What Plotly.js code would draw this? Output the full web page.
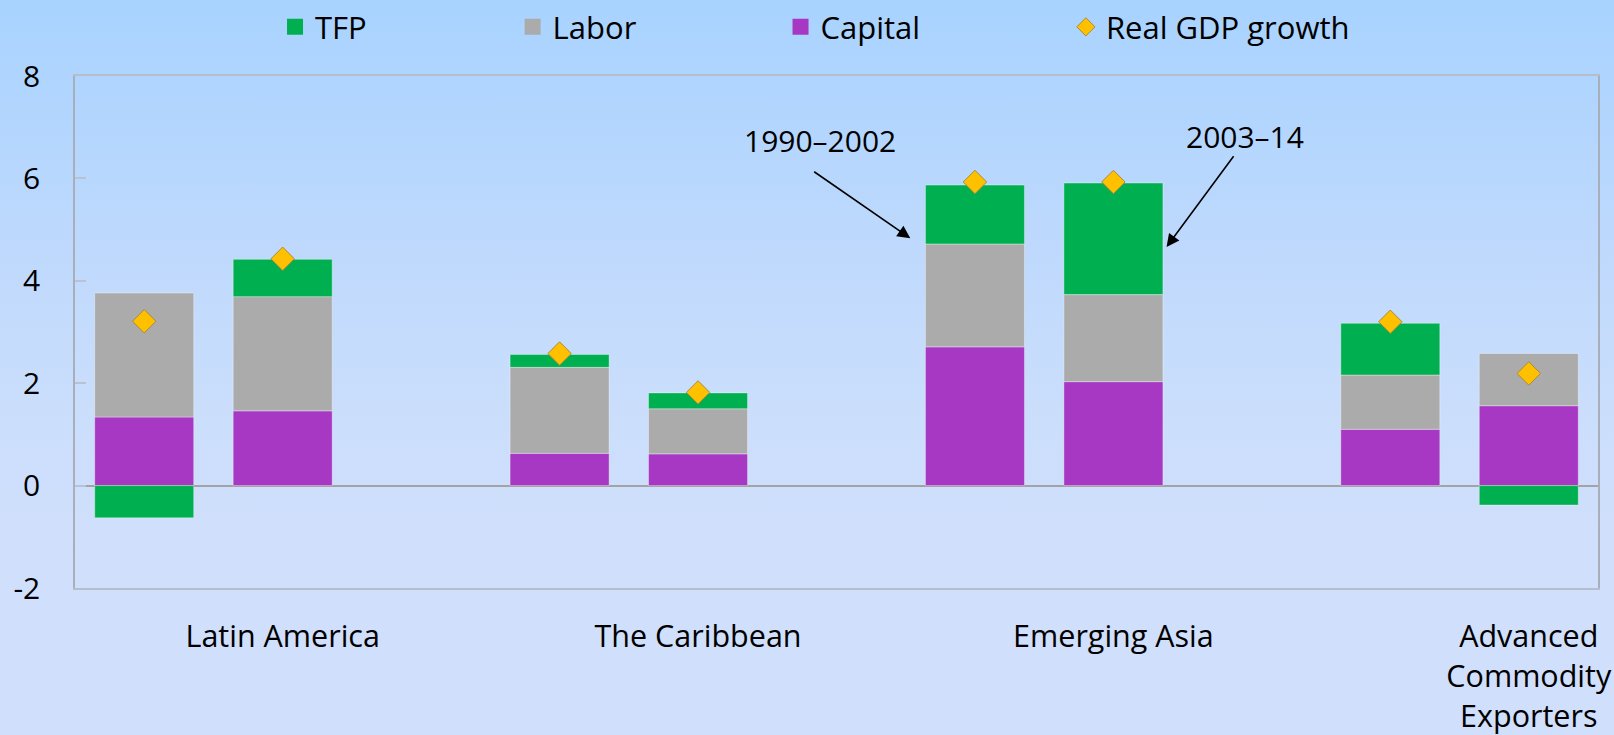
<!DOCTYPE html>
<html>
<head>
<meta charset="utf-8">
<script src="https://cdn.plot.ly/plotly-3.0.1.min.js"></script>
<style>
  html, body { margin: 0; padding: 0; }
  body {
    width: 1614px; height: 735px; overflow: hidden;
    background: linear-gradient(to bottom, #A8D3FF 0%, #BCD8FD 30%, #CADEFC 55%, #D0DFFC 75%, #D0DFFC 100%);
  }
  #chart { width: 1614px; height: 735px; }
</style>
</head>
<body>
<div id="chart"></div>
<script>
// ---- data ----
const regions = ["Latin America", "The Caribbean", "Emerging Asia", "Advanced Commodity Exporters"];
const regionTickLabels = ["Latin America", "The Caribbean", "Emerging Asia", "Advanced<br>Commodity<br>Exporters"];
const periods = ["1990–2002", "2003–14"];
// order: region1-period1, region1-period2, region2-period1, ...
const capital = [1.34, 1.46, 0.63, 0.62, 2.71, 2.03, 1.10, 1.56];
const labor   = [2.42, 2.23, 1.68, 0.88, 2.01, 1.70, 1.06, 1.02];
const tfp     = [-0.63, 0.73, 0.25, 0.31, 1.15, 2.18, 1.01, -0.38];
const gdp     = [3.21, 4.43, 2.58, 1.82, 5.93, 5.93, 3.20, 2.19];
const yTickVals = [-2, 0, 2, 4, 6, 8];
const yTickText = ["-2", "0", "2", "4", "6", "8"];
const legendNames = ["TFP", "Labor", "Capital", "Real GDP growth"];

// ---- positions: each region takes (periods + 1 gap) slots ----
const slotsPerGroup = periods.length + 1;
const xPos = [];
regions.forEach((r, g) => periods.forEach((p, k) => xPos.push(g * slotsPerGroup + k)));
const labelPos = regions.map((r, g) => g * slotsPerGroup + periods.length - 1);
const maxSlot = xPos[xPos.length - 1];

const FONT = "Open Sans, Noto Sans, sans-serif";
const FS = 30;
const cGreen = "#00B050", cGray = "#ABABAB", cPurple = "#A638C3", cGold = "#FFC000";
const barW = 0.715;
const edge = {color: "rgba(255,255,255,0.35)", width: 1};

const hoverText = xPos.map((x, i) => regions[Math.floor(i / periods.length)] + " " + periods[i % periods.length]);

const traces = [
  {type: "bar", name: "Capital", x: xPos, y: capital, width: barW, marker: {color: cPurple, line: edge}, showlegend: false, text: hoverText, hoverinfo: "text+y+name", textposition: "none"},
  {type: "bar", name: "Labor", x: xPos, y: labor, width: barW, marker: {color: cGray, line: edge}, showlegend: false, text: hoverText, hoverinfo: "text+y+name", textposition: "none"},
  {type: "bar", name: "TFP", x: xPos, y: tfp, width: barW, marker: {color: cGreen, line: edge}, showlegend: false, text: hoverText, hoverinfo: "text+y+name", textposition: "none"},
  {type: "scatter", mode: "markers", name: "Real GDP growth", x: xPos, y: gdp, showlegend: false,
   marker: {symbol: "diamond", size: 18, color: cGold, line: {color: "#A88A40", width: 1}}, text: hoverText, hoverinfo: "text+y+name"},
  // legend entries (one legend box each, placed like the original)
  {type: "scatter", mode: "markers", name: legendNames[0], legend: "legend", x: [null], y: [null], marker: {symbol: "square", size: 16, color: cGreen}, hoverinfo: "skip"},
  {type: "scatter", mode: "markers", name: legendNames[1], legend: "legend2", x: [null], y: [null], marker: {symbol: "square", size: 16, color: cGray}, hoverinfo: "skip"},
  {type: "scatter", mode: "markers", name: legendNames[2], legend: "legend3", x: [null], y: [null], marker: {symbol: "square", size: 16, color: cPurple}, hoverinfo: "skip"},
  {type: "scatter", mode: "markers", name: legendNames[3], legend: "legend4", x: [null], y: [null], marker: {symbol: "diamond", size: 14, color: cGold, line: {color: "#A88A40", width: 1}}, hoverinfo: "skip"}
];

function legendBox(xFrac) {
  return {orientation: "h", xref: "container", yref: "container", x: xFrac, xanchor: "left", y: 0.963, yanchor: "middle",
          font: {family: FONT, size: 31, color: "#000"}, bgcolor: "rgba(0,0,0,0)", borderwidth: 0, itemclick: false};
}

const layout = {
  width: 1614, height: 735,
  paper_bgcolor: "rgba(0,0,0,0)", plot_bgcolor: "rgba(0,0,0,0)",
  margin: {l: 75, r: 16, t: 76, b: 147, pad: 0, autoexpand: false},
  font: {family: FONT, size: FS, color: "#000"},
  barmode: "relative",
  showlegend: true,
  legend: legendBox(0.1704),
  legend2: legendBox(0.3176),
  legend3: legendBox(0.4836),
  legend4: legendBox(0.6604),
  xaxis: {range: [-0.5, maxSlot + 0.5], tickmode: "array", tickvals: labelPos, ticktext: regionTickLabels,
          showgrid: false, zeroline: false, showline: true, linecolor: "#B5BECB", linewidth: 1.5, mirror: true,
          ticks: "", ticklabelstandoff: 21, tickfont: {family: FONT, size: 30.5, color: "#000"}, fixedrange: true},
  yaxis: {range: [-2, 8], tickmode: "array", tickvals: yTickVals, ticktext: yTickText,
          showgrid: false, zeroline: true, zerolinecolor: "#A3A3A3", zerolinewidth: 1.5,
          showline: true, linecolor: "#A8AFBA", linewidth: 1.5, mirror: true,
          ticks: "inside", ticklen: 11, tickcolor: "#B8C2D2", tickwidth: 1.5,
          ticklabelstandoff: 27, tickfont: {family: FONT, size: FS, color: "#000"}, fixedrange: true},
  annotations: [
    {text: periods[0], x: 4.884, y: 6.75, xref: "x", yref: "y", showarrow: false, font: {family: FONT, size: FS, color: "#000"}},
    {text: periods[1], x: 7.953, y: 6.81, xref: "x", yref: "y", showarrow: false, font: {family: FONT, size: FS, color: "#000"}},
    {text: "", x: 5.533, y: 4.83, ax: 4.828, ay: 6.15, xref: "x", yref: "y", axref: "x", ayref: "y",
     showarrow: true, arrowhead: 2, arrowsize: 1.6, arrowwidth: 1.6, arrowcolor: "#000", standoff: 0},
    {text: "", x: 7.384, y: 4.66, ax: 7.876, ay: 6.46, xref: "x", yref: "y", axref: "x", ayref: "y",
     showarrow: true, arrowhead: 2, arrowsize: 1.6, arrowwidth: 1.6, arrowcolor: "#000", standoff: 0}
  ]
};

Plotly.newPlot("chart", traces, layout, {displayModeBar: false, staticPlot: false});
</script>
</body>
</html>
